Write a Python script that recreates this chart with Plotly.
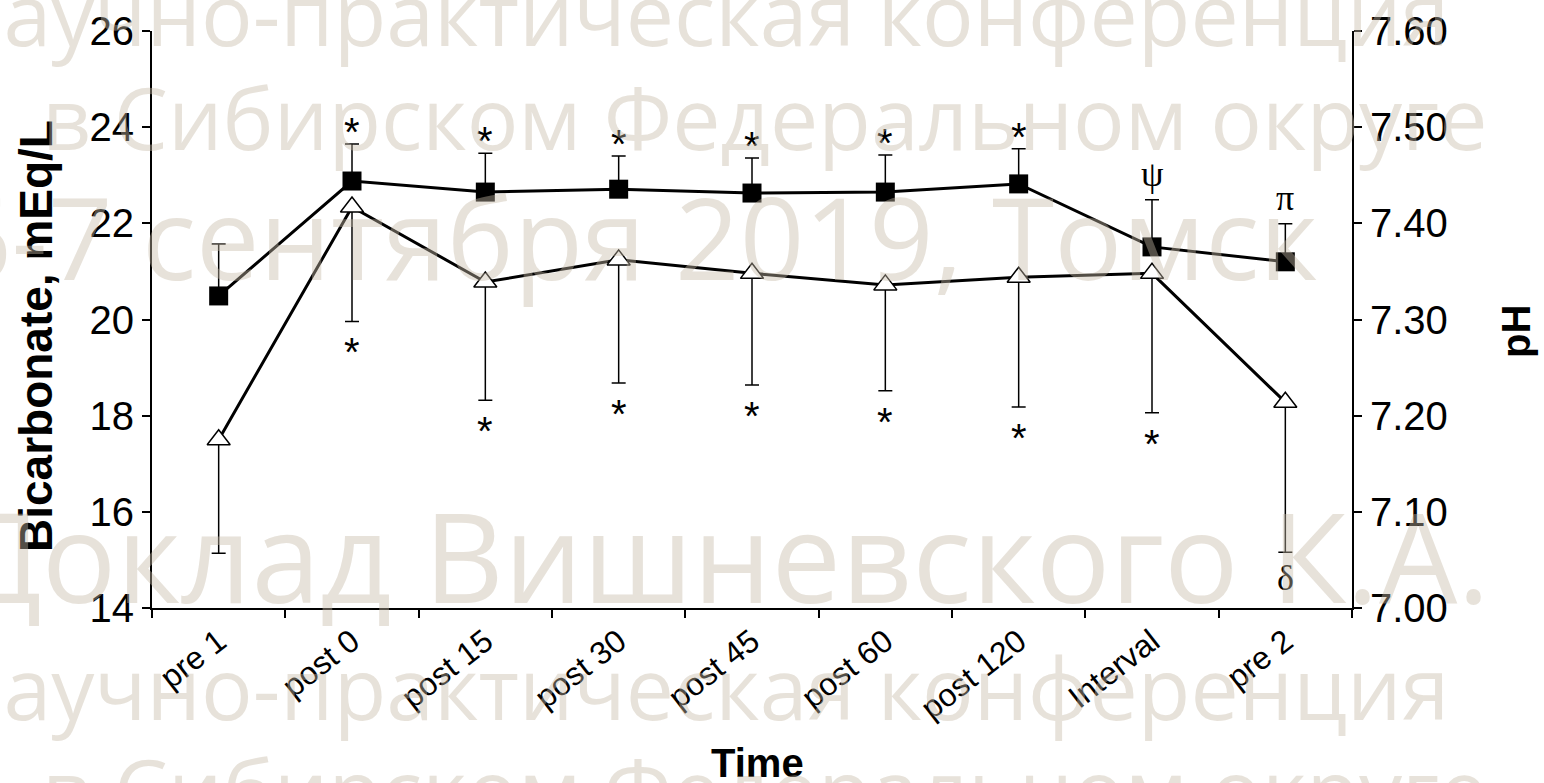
import plotly.graph_objects as go

# ---------------- data ----------------
categories = ["pre 1", "post 0", "post 15", "post 30", "post 45",
              "post 60", "post 120", "Interval", "pre 2"]
bicarbonate = [20.49, 22.88, 22.65, 22.71, 22.63, 22.65, 22.82, 21.51, 21.20]
bicarbonate_err = [1.08, 0.77, 0.81, 0.69, 0.73, 0.77, 0.73, 0.98, 0.79]
ph = [7.175, 7.417, 7.339, 7.362, 7.348, 7.336, 7.344, 7.348, 7.214]
ph_err = [0.118, 0.119, 0.123, 0.128, 0.116, 0.110, 0.135, 0.145, 0.156]
bicarbonate_marks = ["", "*", "*", "*", "*", "*", "*", "\u03c8", "\u03c0"]
ph_marks = ["", "*", "*", "*", "*", "*", "*", "*", "\u03b4"]

watermark_lines = [
    "Научно-практическая конференция",
    "в Сибирском Федеральном округе",
    "6-7 сентября 2019, Томск",
    "Доклад Вишневского К.А.",
    "Научно-практическая конференция",
    "в Сибирском Федеральном округе",
]

# ---------------- geometry ----------------
W, H = 1544, 783
L, R, T, B = 152, 1352, 31, 608


def px(xp):
    return (xp - L) / (R - L)


def py(yp):
    return (B - yp) / (B - T)


FONT = "Liberation Sans, Arial, sans-serif"
SERIF = "Liberation Serif, Times New Roman, serif"

fig = go.Figure()

fig.add_trace(go.Scatter(
    x=categories, y=bicarbonate, mode="lines+markers",
    line=dict(color="black", width=3),
    marker=dict(symbol="square", size=19, color="black"),
    error_y=dict(type="data", symmetric=False, array=bicarbonate_err,
                 arrayminus=[0] * len(bicarbonate_err),
                 color="black", thickness=1.5, width=7),
    showlegend=False, yaxis="y",
))

fig.add_trace(go.Scatter(
    x=categories, y=ph, mode="lines+markers",
    line=dict(color="black", width=3),
    marker=dict(symbol="triangle-up", size=20, color="white",
                line=dict(color="black", width=1.5)),
    error_y=dict(type="data", symmetric=False, array=[0] * len(ph_err),
                 arrayminus=ph_err,
                 color="black", thickness=1.5, width=7),
    showlegend=False, yaxis="y2",
))

annotations = []
# significance marks above bicarbonate error bars
for c, v, e, m in zip(categories, bicarbonate, bicarbonate_err, bicarbonate_marks):
    if not m:
        continue
    serif = m != "*"
    annotations.append(dict(
        x=c, y=v + e, xref="x", yref="y", text=m, showarrow=False,
        yanchor="middle", yshift=(26 if serif else 12),
        font=dict(family=SERIF if serif else FONT, size=36 if serif else 40,
                  color="black")))
# significance marks below pH error bars
for c, v, e, m in zip(categories, ph, ph_err, ph_marks):
    if not m:
        continue
    serif = m != "*"
    annotations.append(dict(
        x=c, y=v - e, xref="x", yref="y2", text=m, showarrow=False,
        yanchor="middle", yshift=(-26 if serif else -31),
        font=dict(family=SERIF if serif else FONT, size=36 if serif else 40,
                  color="black")))

# axis titles
annotations.append(dict(x=px(757), y=py(763), xref="paper", yref="paper",
                        text="<b>Time</b>", showarrow=False,
                        xanchor="center", yanchor="middle",
                        font=dict(family=FONT, size=40, color="black")))
annotations.append(dict(x=px(36), y=py(336), xref="paper", yref="paper",
                        text="<b>Bicarbonate, mEq/L</b>", showarrow=False,
                        textangle=-90, xanchor="center", yanchor="middle",
                        font=dict(family=FONT, size=46, color="black")))
annotations.append(dict(x=px(1516), y=py(332), xref="paper", yref="paper",
                        text="<b>pH</b>", showarrow=False,
                        textangle=-90, xanchor="center", yanchor="middle",
                        font=dict(family=FONT, size=40, color="black")))

# watermark (semi-transparent text overlay)
wm_pos = [(-62, 12, 86), (40, 117, 86), (-55, 236, 113),
          (-45, 554, 124), (-62, 686, 86), (40, 788, 86)]
for text, (x0, yc, fs) in zip(watermark_lines, wm_pos):
    annotations.append(dict(x=px(x0), y=py(yc), xref="paper", yref="paper",
                            text=text, showarrow=False,
                            xanchor="left", yanchor="middle",
                            font=dict(family="Open Sans, sans-serif", size=fs,
                                      color="rgba(198,186,168,0.42)")))

axis_common = dict(showgrid=False, zeroline=False, showline=True,
                   linecolor="black", linewidth=2, ticks="outside",
                   ticklen=8, tickwidth=2, tickcolor="black",
                   tickfont=dict(family=FONT, size=40, color="black"))

fig.update_layout(
    width=W, height=H,
    margin=dict(l=L, r=W - R, t=T, b=H - B, autoexpand=False),
    paper_bgcolor="white", plot_bgcolor="white",
    xaxis=dict(type="category", range=[-0.5, len(categories) - 0.5],
               tickson="boundaries", tickangle=-38,
               showgrid=False, zeroline=False, showline=True,
               linecolor="black", linewidth=2, ticks="outside",
               ticklen=8, tickwidth=2, tickcolor="black",
               tickfont=dict(family=FONT, size=32, color="black")),
    yaxis=dict(range=[14, 26], dtick=2, **axis_common),
    yaxis2=dict(range=[7.0, 7.6], dtick=0.1, tickformat=".2f",
                overlaying="y", side="right", **axis_common),
    annotations=annotations,
)

fig.write_html("out.html",
               config={"displayModeBar": False},
               post_script="document.body.style.margin='0';"
                           "document.body.style.overflow='hidden';")
